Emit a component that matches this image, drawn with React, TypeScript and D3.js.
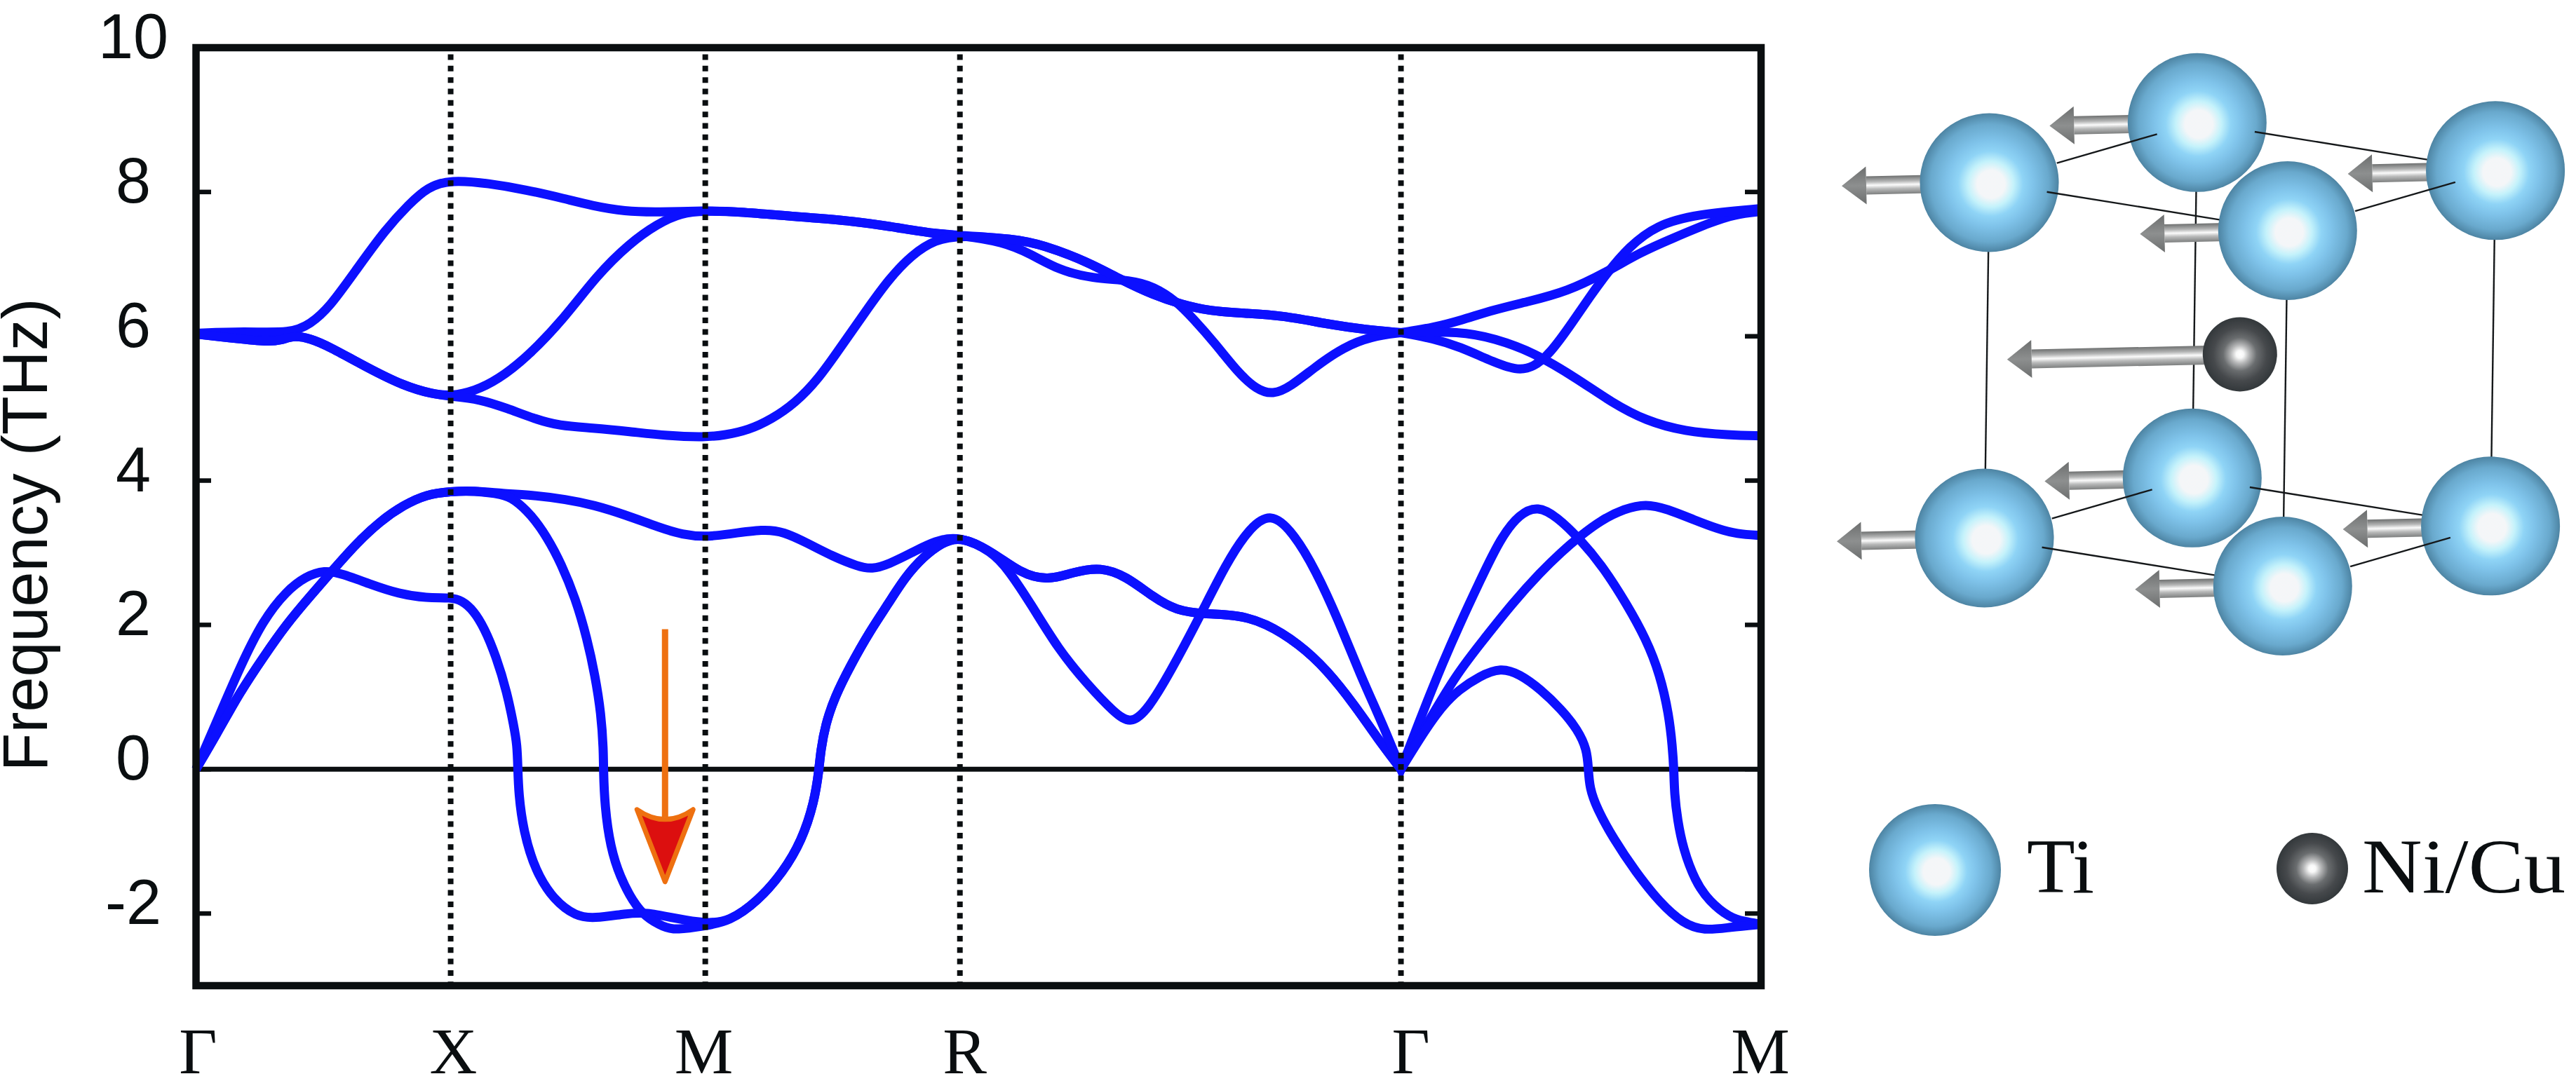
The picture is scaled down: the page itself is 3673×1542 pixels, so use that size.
import React from "react";
import * as d3 from "d3";

type P = [number, number];

const pathLabels = ["Γ", "X", "M", "R", "Γ", "M"];
const pathLengths = [0, 1, 2, 3, 3 + Math.sqrt(3), 3 + Math.sqrt(3) + Math.sqrt(2)];
const dottedNodes = [1, 2, 3, 4];
const labelNudge = [3, 4, -2, 7, 14, -1];
const yTickValues = [8, 6, 4, 2, 0, -2];
const yLabelValues = [10, 8, 6, 4, 2, 0, -2];
const gammaSplit = 4.732;

// ---- optical branches
const optGX_top: P[] = [[0, 6.04], [0.19, 6.07], [0.375, 6.04], [0.449, 6.17], [0.522, 6.39], [0.633, 6.94], [0.744, 7.48], [0.836, 7.83], [0.91, 8.07], [1, 8.17]];
const optXM_top: P[] = [[1.149, 8.12], [1.297, 8.03], [1.444, 7.91], [1.555, 7.81], [1.684, 7.73], [1.813, 7.72], [2, 7.74]];
const optGX_low: P[] = [[0, 6.03], [0.154, 5.97], [0.283, 5.92], [0.338, 5.95], [0.384, 6.01], [0.449, 5.97], [0.522, 5.86], [0.67, 5.57], [0.817, 5.31], [0.928, 5.2], [1, 5.17]];
const optXM_up: P[] = [[1.094, 5.24], [1.186, 5.4], [1.297, 5.7], [1.444, 6.24], [1.573, 6.84], [1.703, 7.29], [1.813, 7.56], [1.905, 7.71], [2, 7.74]];
const optXM_down: P[] = [[1.113, 5.13], [1.223, 5.0], [1.334, 4.85], [1.426, 4.76], [1.555, 4.73], [1.703, 4.68], [1.85, 4.62], [2, 4.6]];
const optMR_top: P[] = [[2.123, 7.73], [2.352, 7.66], [2.582, 7.6], [2.765, 7.5], [2.903, 7.42], [3, 7.4]];
const optMR_rise: P[] = [[2.077, 4.63], [2.17, 4.7], [2.26, 4.85], [2.352, 5.07], [2.445, 5.41], [2.536, 5.87], [2.627, 6.33], [2.72, 6.79], [2.811, 7.13], [2.903, 7.34], [3, 7.4]];
const optRG_upper: P[] = [[3.213, 7.35], [3.323, 7.27], [3.497, 7.04], [3.629, 6.79], [3.761, 6.57], [3.871, 6.44], [3.981, 6.35], [4.113, 6.32], [4.265, 6.29], [4.441, 6.17], [4.595, 6.09], [4.732, 6.05]];
const optRG_lower: P[] = [[3.17, 7.31], [3.279, 7.14], [3.387, 6.92], [3.519, 6.8], [3.672, 6.78], [3.761, 6.69], [3.849, 6.49], [3.915, 6.25], [4.003, 5.9], [4.091, 5.5], [4.166, 5.26], [4.229, 5.19], [4.298, 5.3], [4.397, 5.58], [4.507, 5.85], [4.617, 6], [4.732, 6.05]];
const optGM_upper: P[] = [[4.859, 6.12], [4.967, 6.22], [5.099, 6.37], [5.231, 6.48], [5.385, 6.62], [5.54, 6.89], [5.67, 7.16], [5.8, 7.36], [5.956, 7.59], [6.043, 7.69], [6.146, 7.73]];
const optGM_dip: P[] = [[4.859, 5.97], [4.967, 5.85], [5.077, 5.67], [5.187, 5.52], [5.253, 5.57], [5.32, 5.77], [5.407, 6.2], [5.474, 6.55], [5.54, 6.87], [5.627, 7.24], [5.736, 7.54], [5.889, 7.69], [6.146, 7.77]];
const optGM_fall: P[] = [[4.967, 6.07], [5.099, 5.97], [5.253, 5.78], [5.43, 5.4], [5.561, 5.08], [5.693, 4.83], [5.846, 4.68], [6.022, 4.63], [6.146, 4.62]];

// ---- acoustic / soft branches
const acGX_bump: P[] = [[0, 0], [0.08, 0.65], [0.173, 1.42], [0.264, 2.07], [0.355, 2.47], [0.43, 2.67], [0.504, 2.76], [0.575, 2.71], [0.686, 2.56], [0.796, 2.43], [0.906, 2.37], [1, 2.38]];
const acXM_soft1: P[] = [[1.044, 2.34], [1.09, 2.2], [1.132, 1.96], [1.178, 1.57], [1.222, 1.06], [1.248, 0.6], [1.261, 0.34], [1.264, 0], [1.267, -0.33], [1.285, -0.85], [1.333, -1.42], [1.407, -1.82], [1.492, -2.04], [1.561, -2.07], [1.69, -2], [1.765, -1.98], [1.886, -2.07], [2, -2.14]];
const acGX_high: P[] = [[0, 0], [0.08, 0.48], [0.173, 1.07], [0.264, 1.55], [0.355, 2.01], [0.449, 2.4], [0.54, 2.77], [0.63, 3.13], [0.724, 3.44], [0.815, 3.66], [0.906, 3.81], [1, 3.85]];
const acXM_top: P[] = [[1.09, 3.86], [1.206, 3.82], [1.316, 3.8], [1.454, 3.74], [1.564, 3.66], [1.682, 3.53], [1.82, 3.35], [1.91, 3.25], [2, 3.22]];
const acXM_soft2: P[] = [[1.09, 3.86], [1.206, 3.81], [1.25, 3.74], [1.316, 3.53], [1.38, 3.21], [1.434, 2.85], [1.49, 2.37], [1.536, 1.81], [1.567, 1.3], [1.591, 0.77], [1.6, 0.26], [1.6, 0], [1.605, -0.51], [1.627, -1.08], [1.666, -1.5], [1.715, -1.83], [1.765, -2.05], [1.837, -2.19], [1.886, -2.23], [2, -2.17]];
const acMR_top: P[] = [[2.077, 3.25], [2.233, 3.33], [2.307, 3.29], [2.398, 3.14], [2.5, 2.95], [2.6, 2.81], [2.654, 2.77], [2.72, 2.84], [2.811, 3], [2.903, 3.17], [3, 3.23]];
const acMR_rise: P[] = [[2.095, -2.11], [2.206, -1.83], [2.305, -1.43], [2.379, -0.99], [2.428, -0.46], [2.447, 0], [2.453, 0.25], [2.472, 0.62], [2.508, 1], [2.572, 1.45], [2.646, 1.91], [2.72, 2.3], [2.784, 2.66], [2.858, 2.95], [2.93, 3.14], [3, 3.23]];
const acRG_upper: P[] = [[3.125, 3.02], [3.236, 2.72], [3.344, 2.61], [3.453, 2.74], [3.552, 2.8], [3.651, 2.68], [3.761, 2.38], [3.849, 2.2], [3.959, 2.15], [4.09, 2.14], [4.199, 2.03], [4.331, 1.74], [4.441, 1.38], [4.552, 0.88], [4.639, 0.43], [4.732, 0]];
const acRG_lower: P[] = [[3.125, 3.02], [3.191, 2.76], [3.279, 2.29], [3.387, 1.66], [3.497, 1.19], [3.607, 0.78], [3.672, 0.62], [3.739, 0.83], [3.827, 1.35], [3.937, 2.08], [4.047, 2.86], [4.134, 3.33], [4.221, 3.57], [4.309, 3.28], [4.397, 2.76], [4.485, 2.08], [4.573, 1.3], [4.661, 0.62], [4.732, 0]];
const acGM_steep: P[] = [[4.83, 0.9], [4.896, 1.47], [4.959, 1.98], [5.041, 2.6], [5.124, 3.21], [5.198, 3.54], [5.27, 3.65], [5.344, 3.5], [5.435, 3.19], [5.529, 2.79], [5.62, 2.28], [5.694, 1.81], [5.749, 1.32], [5.785, 0.75], [5.798, 0.31], [5.804, 0], [5.806, -0.34], [5.818, -0.7], [5.84, -1.1], [5.887, -1.55], [5.942, -1.83], [6.024, -2.06], [6.079, -2.11], [6.146, -2.15]];
const acGM_mid: P[] = [[4.83, 0.6], [4.95, 1.32], [5.06, 1.81], [5.17, 2.3], [5.28, 2.73], [5.362, 3.01], [5.435, 3.23], [5.517, 3.45], [5.61, 3.61], [5.694, 3.68], [5.776, 3.61], [5.887, 3.45], [5.977, 3.33], [6.05, 3.26], [6.146, 3.24]];
const acGM_bump: P[] = [[4.83, 0.56], [4.896, 0.88], [4.959, 1.1], [5.041, 1.29], [5.124, 1.41], [5.198, 1.32], [5.28, 1.11], [5.362, 0.83], [5.426, 0.55], [5.463, 0.27], [5.468, 0], [5.473, -0.26], [5.501, -0.54], [5.564, -0.95], [5.655, -1.43], [5.749, -1.85], [5.84, -2.14], [5.922, -2.24], [6.024, -2.19], [6.146, -2.15]];

const bands: P[][] = [
  [...optGX_top, ...optXM_top, ...optMR_top, ...optRG_upper, ...optGM_upper],
  [...optGX_low, ...optXM_up, ...optMR_top, ...optRG_lower, ...optGM_dip],
  [...optGX_low, ...optXM_down, ...optMR_rise, ...optRG_upper, ...optGM_fall],
  [...acGX_bump, ...acXM_soft1, ...acMR_rise, ...acRG_upper, ...acGM_steep],
  [...acGX_high, ...acXM_top, ...acMR_top, ...acRG_upper, ...acGM_mid],
  [...acGX_high, ...acXM_soft2, ...acMR_rise, ...acRG_lower, ...acGM_bump],
];

// annotation arrow on the soft mode (path coordinate, frequency from, frequency to)
const softArrow = { q: 1.842, from: 1.94, to: -1.56 };

// ---- crystal schematic, fractional cell coordinates
const titaniumSites: number[][] = [
  [0, 0, 1], [1, 0, 1], [1, 1, 1], [0, 1, 1],
  [0, 0, 0], [1, 0, 0], [1, 1, 0], [0, 1, 0],
];
const drawOrder = [4, 5, 6, 7, 0, 1, 2, 3];
const nickelSite = [0.5, 0.5, 0.5];
const verticalEdges = [[0, 4], [1, 5], [2, 6], [3, 7]];
const shortEdges = [[0, 1], [3, 2], [4, 5], [7, 6]];
const longEdges = [[1, 2], [0, 3], [5, 6], [4, 7]];
const legendItems = [
  { label: "Ti", fill: "url(#ti)", cx: 2759, cy: 1241, r: 94, tx: 2890, len: 96 },
  { label: "Ni/Cu", fill: "url(#ni)", cx: 3297, cy: 1239, r: 51, tx: 3368, len: 290 },
];

const INK = "#0a0e10";
const BLUE = "#0c10ff";

export default function App() {
  const x = d3.scaleLinear().domain([0, pathLengths[5]]).range([279.5, 2511]);
  const y = d3.scaleLinear().domain([10, -3]).range([68, 1406]);
  const line = d3
    .line<P>()
    .x((d) => x(d[0]))
    .y((d) => y(d[1]))
    .curve(d3.curveBasis);

  // each band is smoothed on its own either side of the Γ node, so that the cusp there stays sharp
  const bandPath = (b: P[]) => {
    const i = b.findIndex((d) => d[0] === gammaSplit);
    const left = line(b.slice(0, i + 1)) ?? "";
    const right = line(b.slice(i)) ?? "";
    return left + "L" + right.slice(1);
  };

  const cell = d3.scaleLinear().domain([0, 1]);
  const project = (s: number[]): P => [
    2829.5 + cell.range([0, 296.3])(s[0]) + cell.range([0, 425.3])(s[1]) + cell.range([0, 7])(s[2]),
    767.5 + cell.range([0, -85.7])(s[0]) + cell.range([0, 68.5])(s[1]) + cell.range([0, -507])(s[2]),
  ];
  const ti = titaniumSites.map(project);
  const ni = project(nickelSite);

  const atomArrow = (c: P, dx: number, dy: number, half: number, key: string) => {
    const len = Math.hypot(dx, dy);
    const a = (Math.atan2(dy, dx) * 180) / Math.PI;
    return (
      <g key={key} transform={`translate(${c[0]},${c[1]}) rotate(${a})`}>
        <rect x={0} y={-half} width={len - 35} height={half * 2} fill="url(#shaft)" />
        <polygon points={`${len - 35},-27 ${len},0 ${len - 35},27`} fill="url(#head)" />
      </g>
    );
  };

  const segment = (a: P, b: P, t0: number, t1: number, key: string) => (
    <line
      key={key}
      x1={a[0] + (b[0] - a[0]) * t0}
      y1={a[1] + (b[1] - a[1]) * t0}
      x2={a[0] + (b[0] - a[0]) * t1}
      y2={a[1] + (b[1] - a[1]) * t1}
      stroke="#15181a"
      strokeWidth={2.4}
    />
  );

  const ax = x(softArrow.q);
  const aTop = y(softArrow.from);
  const aTip = y(softArrow.to);

  return (
    <svg
      width={3673}
      height={1542}
      viewBox="0 0 3673 1542"
      style={{ position: "fixed", left: 0, top: 0, display: "block", background: "#fff" }}
    >
      <defs>
        <radialGradient id="ti" cx="0.5" cy="0.5" r="0.5" fx="0.515" fy="0.515">
          <stop offset="0" stopColor="#f5f6f8" />
          <stop offset="0.2" stopColor="#f4f6f8" />
          <stop offset="0.33" stopColor="#c4f2fb" />
          <stop offset="0.47" stopColor="#8fd4f6" />
          <stop offset="0.62" stopColor="#7fc3ea" />
          <stop offset="0.85" stopColor="#69a9cd" />
          <stop offset="1" stopColor="#4d84a3" />
        </radialGradient>
        <radialGradient id="ni" cx="0.5" cy="0.5" r="0.5">
          <stop offset="0" stopColor="#ffffff" />
          <stop offset="0.1" stopColor="#f8f8f8" />
          <stop offset="0.25" stopColor="#b5b6b7" />
          <stop offset="0.45" stopColor="#6a6d6f" />
          <stop offset="0.72" stopColor="#46494c" />
          <stop offset="1" stopColor="#33383b" />
        </radialGradient>
        <linearGradient id="shaft" x1="0" y1="0" x2="0" y2="1">
          <stop offset="0" stopColor="#7d7f7f" />
          <stop offset="0.3" stopColor="#b9baba" />
          <stop offset="0.5" stopColor="#fbfbfb" />
          <stop offset="0.7" stopColor="#b4b5b5" />
          <stop offset="1" stopColor="#6e7070" />
        </linearGradient>
        <linearGradient id="head" x1="0" y1="0" x2="0" y2="1">
          <stop offset="0" stopColor="#6c6e6e" />
          <stop offset="0.5" stopColor="#8d8f8f" />
          <stop offset="1" stopColor="#6c6e6e" />
        </linearGradient>
      </defs>

      {/* zero line */}
      <line x1={x(0)} x2={x(pathLengths[5])} y1={y(0)} y2={y(0)} stroke={INK} strokeWidth={7} />

      {/* ticks */}
      {yTickValues.map((t) => (
        <g key={t}>
          <line x1={x(0)} x2={301} y1={y(t)} y2={y(t)} stroke={INK} strokeWidth={6.5} />
          <line x1={2488} x2={x(pathLengths[5])} y1={y(t)} y2={y(t)} stroke={INK} strokeWidth={6.5} />
        </g>
      ))}

      {/* phonon bands */}
      {bands.map((b, i) => (
        <path key={i} d={bandPath(b)} fill="none" stroke={BLUE} strokeWidth={13} strokeLinejoin="miter" strokeMiterlimit={8} />
      ))}

      {/* high-symmetry lines */}
      {dottedNodes.map((n) => (
        <line
          key={n}
          x1={x(pathLengths[n])}
          x2={x(pathLengths[n])}
          y1={77.5}
          y2={1402}
          stroke={INK}
          strokeWidth={8}
          strokeDasharray="8 8.33"
        />
      ))}

      {/* frame */}
      <rect
        x={x(0)}
        y={y(10)}
        width={x(pathLengths[5]) - x(0)}
        height={y(-3) - y(10)}
        fill="none"
        stroke={INK}
        strokeWidth={10.5}
      />

      {/* soft mode arrow */}
      <line x1={ax} x2={ax} y1={aTop} y2={aTip - 92} stroke="#ee7010" strokeWidth={9} />
      <path
        d={`M${ax - 40},${aTip - 103} Q${ax},${aTip - 75} ${ax + 40},${aTip - 103} L${ax},${aTip} Z`}
        fill="#dc0f0f"
        stroke="#ee7010"
        strokeWidth={7}
        strokeLinejoin="round"
      />

      {/* tick labels */}
      {yLabelValues.map((t) => (
        <text key={t} x={190} y={y(t) + 15} textAnchor="middle" fontFamily="'Liberation Sans'" fontSize={90} fill={INK}>
          {t}
        </text>
      ))}
      {pathLabels.map((l, i) => (
        <text
          key={i}
          x={x(pathLengths[i]) + labelNudge[i]}
          y={1531}
          textAnchor="middle"
          fontFamily="'Liberation Serif'"
          fontSize={94}
          fill={INK}
        >
          {l}
        </text>
      ))}
      <text
        transform="translate(67,763) rotate(-90)"
        textAnchor="middle"
        fontFamily="'Liberation Sans'"
        fontSize={90}
        fill={INK}
      >
        Frequency (THz)
      </text>

      {/* crystal */}
      {verticalEdges.map(([a, b], i) => segment(ti[a], ti[b], 0, 1, `v${i}`))}
      {ti.map((c, i) => atomArrow(c, -210.5, 4.8, 13, `ta${i}`))}
      {atomArrow(ni, -332, 7.4, 13.5, "na")}
      {drawOrder.slice(0, 4).map((i) => (
        <circle key={i} cx={ti[i][0]} cy={ti[i][1]} r={99} fill="url(#ti)" />
      ))}
      <circle cx={ni[0]} cy={ni[1]} r={53} fill="url(#ni)" />
      {drawOrder.slice(4).map((i) => (
        <circle key={i} cx={ti[i][0]} cy={ti[i][1]} r={99} fill="url(#ti)" />
      ))}
      {shortEdges.map(([a, b], i) => segment(ti[a], ti[b], 0.325, 0.807, `s${i}`))}
      {longEdges.map(([a, b], i) => segment(ti[a], ti[b], 0.193, 0.771, `l${i}`))}

      {/* legend */}
      {legendItems.map((it) => (
        <g key={it.label}>
          <circle cx={it.cx} cy={it.cy} r={it.r} fill={it.fill} />
          <text
            x={it.tx}
            y={1273}
            fontFamily="'Liberation Serif'"
            fontSize={110}
            fill={INK}
            textLength={it.len}
            lengthAdjust="spacingAndGlyphs"
          >
            {it.label}
          </text>
        </g>
      ))}
    </svg>
  );
}
